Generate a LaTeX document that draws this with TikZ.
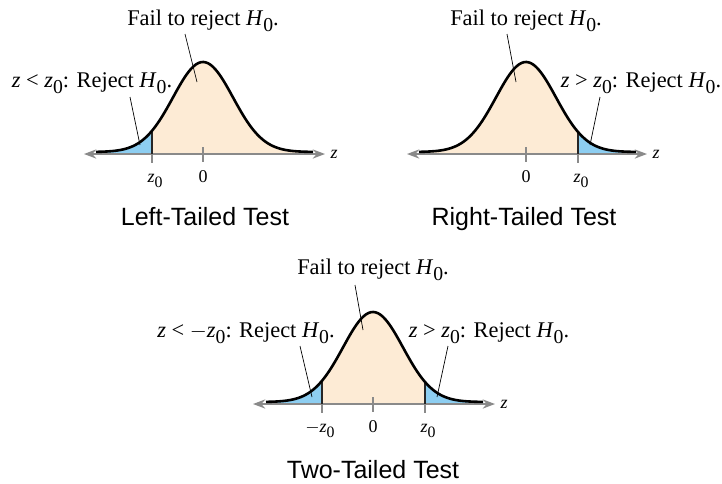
\documentclass[tikz,border=0pt]{standalone}
\usepackage{fontspec}
\setmainfont{Liberation Serif}
\setsansfont{Liberation Sans}
\usetikzlibrary{arrows.meta}
\definecolor{acceptfill}{HTML}{FDEBD5}
\definecolor{rejectfill}{HTML}{8DCEF1}
\definecolor{axisgray}{HTML}{8A8A8A}
\newcommand{\lowzero}{\raisebox{-0.65ex}{\scalebox{0.88}{0}}}
\newcommand{\zz}{\textit{z}\lowzero}
\newcommand{\Hz}{\textit{H}\lowzero}

\begin{document}
\begin{tikzpicture}[
  x=0.5pt, y=-0.5pt,
  >=Stealth,
  declare function={bell(\t)=-2-90*exp(-((\t)/30)^2/2);},
  curve/.style={line width=1.3pt, line join=round},
  axisline/.style={<->, axisgray, line width=0.7pt},
  tickline/.style={axisgray, line width=0.6pt},
  cutline/.style={black!85, line width=0.6pt},
  leader/.style={line width=0.35pt},
  lbl/.style={font=\fontsize{11.2}{13}\selectfont, anchor=base},
  ticklbl/.style={font=\fontsize{9}{11}\selectfont, anchor=base},
  axislbl/.style={font=\fontsize{9}{11}\selectfont, anchor=mid},
  title/.style={font=\sffamily\fontsize{12.5}{15}\selectfont, anchor=base},
]
\useasboundingbox (0,0) rectangle (722,483);

% --- Left-tailed test ---
\begin{scope}[shift={(203,154)}]
  \fill[acceptfill] (-107,0) -- plot[domain=-107:110, samples=90, smooth] (\x,{bell(\x)}) -- (110,0) -- cycle;
  \fill[rejectfill] (-107,0) -- plot[domain=-107:-51, samples=30, smooth] (\x,{bell(\x)}) -- (-51,0) -- cycle;
  \draw[axisline] (-119,0) -- (122,0);
  \draw[tickline] (0,-7) -- (0,8);
  \draw[tickline] (-51,0) -- (-51,9);
  \draw[cutline] (-51,{bell(-51)}) -- (-51,0);
  \draw[curve] plot[domain=-107:110, samples=90, smooth] (\x,{bell(\x)});
  \node[axislbl] (lft-z) at (131,0) {\textit{z}};
  \node[ticklbl] (lft-z0) at (-48,28) {\zz};
  \node[ticklbl] (lft-0) at (0,28) {0};
  \node[lbl] (lft-fail) at (0,-129) {Fail to reject \Hz.};
  \node[lbl] (lft-rej) at (-111,-67) {\textit{z} < \zz: Reject \Hz.};
  \coordinate (lft-fail-a) at (-18,-120);
  \coordinate (lft-fail-b) at (-6,-72);
  \coordinate (lft-rej-a) at (-73,-57);
  \coordinate (lft-rej-b) at (-63,-9);
  \draw[leader] (lft-fail-a) -- (lft-fail-b);
  \draw[leader] (lft-rej-a) -- (lft-rej-b);
  \node[title] (lft-title) at (2,71) {Left-Tailed Test};
\end{scope}

% --- Right-tailed test ---
\begin{scope}[shift={(526,154)}]
  \fill[acceptfill] (-107,0) -- plot[domain=-107:110, samples=90, smooth] (\x,{bell(\x)}) -- (110,0) -- cycle;
  \fill[rejectfill] (52,0) -- plot[domain=52:110, samples=30, smooth] (\x,{bell(\x)}) -- (110,0) -- cycle;
  \draw[axisline] (-119,0) -- (121,0);
  \draw[tickline] (0,-7) -- (0,8);
  \draw[tickline] (52,0) -- (52,9);
  \draw[cutline] (52,{bell(52)}) -- (52,0);
  \draw[curve] plot[domain=-107:110, samples=90, smooth] (\x,{bell(\x)});
  \node[axislbl] (rgt-z) at (130,0) {\textit{z}};
  \node[ticklbl] (rgt-0) at (0,28) {0};
  \node[ticklbl] (rgt-z0) at (55,28) {\zz};
  \node[lbl] (rgt-fail) at (0,-129) {Fail to reject \Hz.};
  \node[lbl] (rgt-rej) at (115,-67) {\textit{z} > \zz: Reject \Hz.};
  \coordinate (rgt-fail-a) at (-19,-120);
  \coordinate (rgt-fail-b) at (-10,-72);
  \coordinate (rgt-rej-a) at (74,-57);
  \coordinate (rgt-rej-b) at (64,-9);
  \draw[leader] (rgt-fail-a) -- (rgt-fail-b);
  \draw[leader] (rgt-rej-a) -- (rgt-rej-b);
  \node[title] (rgt-title) at (-2,71) {Right-Tailed Test};
\end{scope}

% --- Two-tailed test ---
\begin{scope}[shift={(373,404)}]
  \fill[acceptfill] (-107,0) -- plot[domain=-107:110, samples=90, smooth] (\x,{bell(\x)}) -- (110,0) -- cycle;
  \fill[rejectfill] (-107,0) -- plot[domain=-107:-51, samples=30, smooth] (\x,{bell(\x)}) -- (-51,0) -- cycle;
  \fill[rejectfill] (52,0) -- plot[domain=52:110, samples=30, smooth] (\x,{bell(\x)}) -- (110,0) -- cycle;
  \draw[axisline] (-120,0) -- (122,0);
  \draw[tickline] (0,-7) -- (0,8);
  \draw[tickline] (-51,0) -- (-51,9);
  \draw[tickline] (52,0) -- (52,9);
  \draw[cutline] (-51,{bell(-51)}) -- (-51,0);
  \draw[cutline] (52,{bell(52)}) -- (52,0);
  \draw[curve] plot[domain=-107:110, samples=90, smooth] (\x,{bell(\x)});
  \node[axislbl] (two-z) at (131,0) {\textit{z}};
  \node[ticklbl] (two-mz0) at (-53,28) {$-$\zz};
  \node[ticklbl] (two-0) at (0,28) {0};
  \node[ticklbl] (two-z0) at (55,28) {\zz};
  \node[lbl] (two-fail) at (0,-130) {Fail to reject \Hz.};
  \node[lbl] (two-lrej) at (-127,-67) {\textit{z} < $-$\zz: Reject \Hz.};
  \node[lbl] (two-rrej) at (116,-67) {\textit{z} > \zz: Reject \Hz.};
  \coordinate (two-fail-a) at (-18,-119);
  \coordinate (two-fail-b) at (-10,-74);
  \coordinate (two-lrej-a) at (-73,-58);
  \coordinate (two-lrej-b) at (-61,-7);
  \coordinate (two-rrej-a) at (75,-58);
  \coordinate (two-rrej-b) at (64,-7);
  \draw[leader] (two-fail-a) -- (two-fail-b);
  \draw[leader] (two-lrej-a) -- (two-lrej-b);
  \draw[leader] (two-rrej-a) -- (two-rrej-b);
  \node[title] (two-title) at (0,74) {Two-Tailed Test};
\end{scope}

\end{tikzpicture}
\end{document}
